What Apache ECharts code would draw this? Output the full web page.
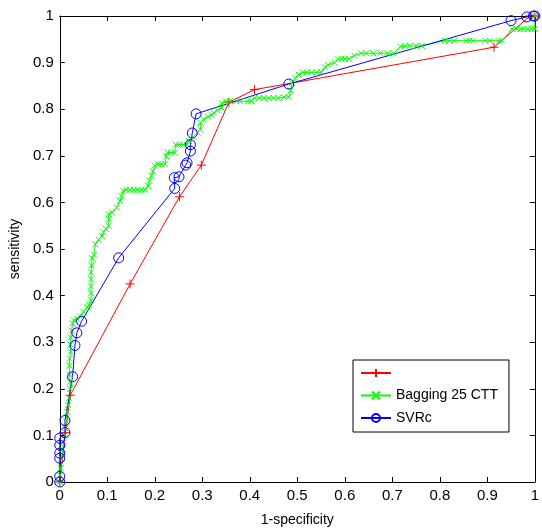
<!DOCTYPE html>
<html>
<head>
<meta charset="utf-8">
<script src="https://cdn.jsdelivr.net/npm/echarts@6/dist/echarts.min.js"></script>
<style>html,body{margin:0;padding:0;background:#fff}#c{width:542px;height:532px}</style>
</head>
<body>
<div id="c"></div>
<script>
var xTicks = [0, 0.1, 0.2, 0.3, 0.4, 0.5, 0.6, 0.7, 0.8, 0.9, 1];
var yTicks = [0, 0.1, 0.2, 0.3, 0.4, 0.5, 0.6, 0.7, 0.8, 0.9, 1];
var seriesNames = [' ', 'Bagging 25 CTT', 'SVRc'];

var redPts = [[0,0],[0.012,0.106],[0.022,0.186],[0.148,0.425],[0.252,0.612],[0.298,0.68],[0.356,0.815],[0.41,0.842],[0.914,0.933],[0.99,1],[1,1]];

var greenPts = [[0,0],[0,0.015],[0.002,0.03],[0.004,0.05],[0.006,0.07],[0.008,0.085],[0.01,0.1],[0.012,0.115],[0.014,0.13],[0.016,0.15],[0.018,0.165],[0.02,0.18],[0.022,0.2],[0.022,0.215],[0.021,0.23],[0.02,0.25],[0.021,0.265],[0.023,0.28],[0.023,0.295],[0.023,0.31],[0.025,0.325],[0.027,0.34],[0.03,0.347],[0.037,0.35],[0.043,0.355],[0.05,0.365],[0.058,0.375],[0.062,0.38],[0.066,0.39],[0.066,0.405],[0.066,0.42],[0.066,0.435],[0.066,0.45],[0.067,0.465],[0.068,0.48],[0.072,0.488],[0.075,0.51],[0.082,0.52],[0.089,0.528],[0.092,0.536],[0.097,0.543],[0.103,0.55],[0.103,0.565],[0.103,0.575],[0.11,0.578],[0.12,0.589],[0.127,0.603],[0.13,0.614],[0.134,0.625],[0.14,0.627],[0.148,0.627],[0.156,0.627],[0.164,0.627],[0.172,0.627],[0.18,0.627],[0.186,0.635],[0.189,0.646],[0.193,0.657],[0.196,0.667],[0.2,0.679],[0.207,0.682],[0.214,0.682],[0.222,0.682],[0.224,0.699],[0.227,0.707],[0.234,0.707],[0.242,0.707],[0.244,0.724],[0.252,0.724],[0.26,0.724],[0.268,0.724],[0.272,0.732],[0.28,0.74],[0.29,0.75],[0.296,0.756],[0.296,0.771],[0.303,0.778],[0.312,0.784],[0.32,0.788],[0.324,0.792],[0.332,0.798],[0.341,0.803],[0.341,0.813],[0.35,0.817],[0.358,0.817],[0.372,0.817],[0.38,0.817],[0.396,0.817],[0.403,0.817],[0.41,0.824],[0.42,0.824],[0.43,0.824],[0.44,0.824],[0.45,0.824],[0.46,0.824],[0.472,0.826],[0.482,0.826],[0.486,0.84],[0.489,0.856],[0.496,0.867],[0.503,0.874],[0.512,0.879],[0.52,0.879],[0.53,0.879],[0.541,0.879],[0.551,0.879],[0.558,0.89],[0.565,0.895],[0.578,0.9],[0.586,0.907],[0.593,0.908],[0.6,0.908],[0.608,0.908],[0.62,0.915],[0.634,0.92],[0.645,0.92],[0.66,0.92],[0.675,0.92],[0.69,0.92],[0.703,0.92],[0.717,0.934],[0.727,0.936],[0.737,0.936],[0.75,0.936],[0.762,0.936],[0.81,0.947],[0.82,0.947],[0.83,0.947],[0.855,0.947],[0.862,0.947],[0.87,0.947],[0.896,0.947],[0.905,0.947],[0.925,0.947],[0.931,0.947],[0.952,0.972],[0.962,0.972],[0.97,0.972],[0.976,0.972],[0.985,0.972],[0.993,0.972],[1,0.972],[1,1]];

var bluePts = [[0,0],[0,0.012],[0,0.051],[0,0.062],[0,0.079],[0,0.094],[0.011,0.106],[0.011,0.132],[0.027,0.226],[0.032,0.293],[0.036,0.32],[0.046,0.345],[0.124,0.481],[0.242,0.63],[0.241,0.653],[0.251,0.655],[0.265,0.68],[0.268,0.685],[0.275,0.71],[0.275,0.724],[0.279,0.749],[0.287,0.79],[0.482,0.854],[0.95,0.99],[0.983,0.998],[0.997,1],[1,1]];

var FONT = 'Arial, "Liberation Sans", sans-serif';
var chart = echarts.init(document.getElementById('c'), null, {renderer: 'canvas'});

function mkAxis(pos, ticks, showLabels, name, extra) {
  var a = {
    type: 'value', position: pos, min: ticks[0], max: ticks[ticks.length - 1],
    interval: ticks[1] - ticks[0],
    axisLine: {show: true, onZero: false, lineStyle: {color: '#000', width: 1}},
    axisTick: {show: true, inside: true, length: 5, lineStyle: {color: '#000'}},
    axisLabel: {show: showLabels, color: '#000', fontSize: 15, fontFamily: FONT, margin: 6},
    splitLine: {show: false}
  };
  if (name) {
    a.name = name;
    a.nameLocation = 'middle';
    a.nameTextStyle = {color: '#000', fontSize: 14, fontFamily: FONT};
  }
  return Object.assign(a, extra || {});
}

var plusSym = 'path://M0,5L10,5M5,0L5,10';
var crossSym = 'path://M0,0L10,10M0,10L10,0';

chart.setOption({
  animation: false,
  backgroundColor: '#fff',
  grid: {left: 57, right: 2, top: 16, bottom: 48, containLabel: false},
  xAxis: [
    mkAxis('bottom', xTicks, true, '1-specificity', {nameGap: 31}),
    mkAxis('top', xTicks, false)
  ],
  yAxis: [
    mkAxis('left', yTicks, true, 'sensitivity', {nameGap: 30}),
    mkAxis('right', yTicks, false)
  ],
  legend: {
    orient: 'vertical', left: 353, top: 360,
    data: seriesNames,
    itemWidth: 30, itemHeight: 10, itemGap: 8.5,
    padding: [6, 11, 7, 7],
    borderColor: '#000', borderWidth: 1, backgroundColor: '#fff',
    textStyle: {color: '#000', fontSize: 14, fontFamily: FONT},
    selectedMode: false
  },
  series: [
    {
      name: seriesNames[0], type: 'line', data: redPts, clip: false,
      symbol: plusSym, symbolSize: 9, showAllSymbol: true,
      lineStyle: {color: '#ff0000', width: 1},
      itemStyle: {color: '#ff0000', borderColor: '#ff0000', borderWidth: 1}
    },
    {
      name: seriesNames[1], type: 'line', data: greenPts, clip: false,
      symbol: crossSym, symbolSize: 6, showAllSymbol: true,
      lineStyle: {color: '#00ff00', width: 1},
      itemStyle: {color: '#00ff00', borderColor: '#00ff00', borderWidth: 1}
    },
    {
      name: seriesNames[2], type: 'line', data: bluePts, clip: false,
      symbol: 'circle', symbolSize: 10, showAllSymbol: true,
      lineStyle: {color: '#0000ff', width: 1},
      itemStyle: {color: 'rgba(0,0,0,0)', borderColor: '#0000ff', borderWidth: 1}
    }
  ]
});
</script>
</body>
</html>
